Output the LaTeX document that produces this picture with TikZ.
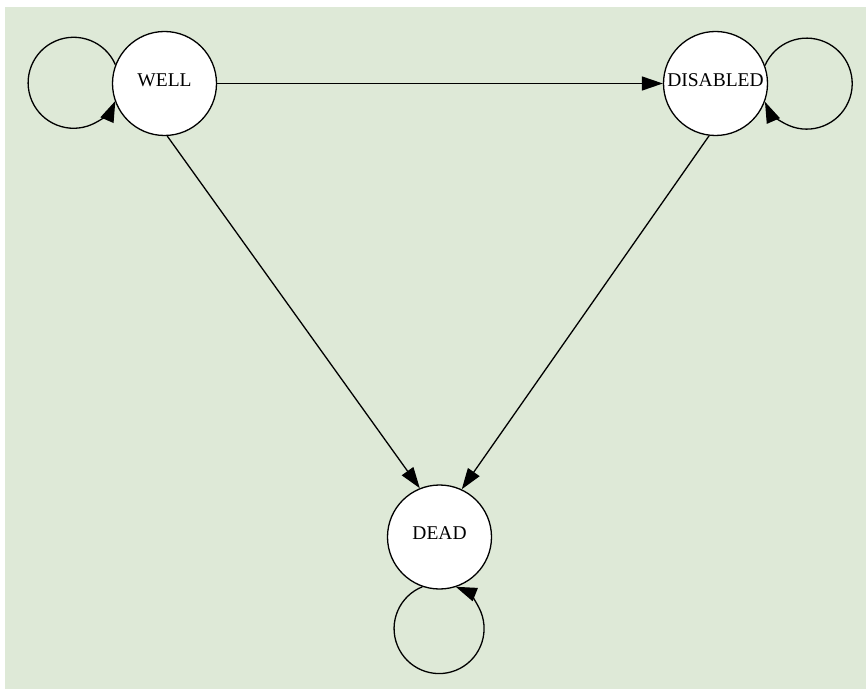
\documentclass[tikz,border=0pt]{standalone}
\usepackage{fontspec}
\setmainfont{Liberation Serif}
\usetikzlibrary{arrows.meta}
\definecolor{bgpanel}{RGB}{222,233,215}
\begin{document}
\begin{tikzpicture}[x=1pt,y=1pt,
  state/.style={circle, draw, fill=white, line width=1.3pt, minimum size=104pt,
    inner sep=0pt, font=\fontsize{19.5}{19.5}\selectfont, text height=12.9pt, text depth=7pt},
  trans/.style={line width=1.3pt, -{Triangle[length=21pt,width=14pt]}},
]
\useasboundingbox (0,0) rectangle (866,689);
% panel
\fill[bgpanel] (5,0) rectangle (866,681.5);
% states
\node[state] (well) at (164.5,605.5) {WELL};
\node[state] (disabled) at (715.5,605.5) {DISABLED};
\node[state] (dead) at (439.5,152) {DEAD};
% transitions between states
\draw[trans] (well) -- (disabled);
\draw[trans] (well.273.1) -- (dead.112.3);
\draw[trans] (disabled.263.3) -- (dead.65.8);
% self transitions
\draw[trans] (well.159.8) arc[start angle=23.5, end angle=336.5, radius=45.5];
\draw[trans] (disabled.20.2) arc[start angle=156.5, end angle=-156.5, radius=45.5];
\draw[trans] (dead.251.3) arc[start angle=111.8, end angle=428.2, radius=45];
\end{tikzpicture}
\end{document}
